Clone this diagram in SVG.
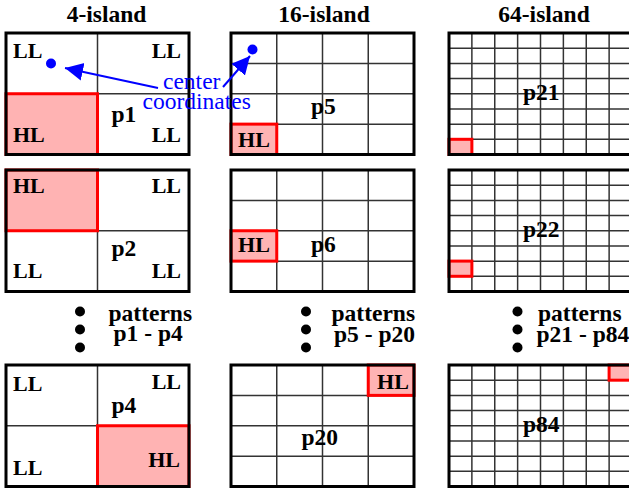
<svg xmlns="http://www.w3.org/2000/svg" xmlns:xlink="http://www.w3.org/1999/xlink" width="629" height="489" viewBox="0 0 629 489">
  <style>
    .frame { fill: none; stroke: #000; stroke-width: 3; }
    .bg { fill: #fff; }
    .grid line { stroke: #333; stroke-width: 1.5; }
    .hl { fill: #ffb3b3; stroke: #ff0000; stroke-width: 3; }
    .t { font-family: "Liberation Serif", "Times New Roman", serif; font-weight: bold; font-size: 22px; fill: #000; }
    .title { font-family: "Liberation Serif", "Times New Roman", serif; font-weight: bold; font-size: 23.5px; fill: #000; text-anchor: middle; }
    .pn { font-family: "Liberation Serif", "Times New Roman", serif; font-weight: bold; font-size: 23.5px; fill: #000; }
    .note { font-family: "Liberation Serif", "Times New Roman", serif; font-size: 23.5px; fill: #0000ff; }
    .dot { fill: #000; }
    .arrow { stroke: #0000ff; stroke-width: 2; fill: none; marker-end: url(#ah); }
  </style>
  <defs>
    <marker id="ah" markerUnits="userSpaceOnUse" markerWidth="20" markerHeight="20" refX="18" refY="9" orient="auto">
      <path d="M0,0 L18,9 L0,18 z" fill="#0000ff"/>
    </marker>
    <!-- 2x2 split -->
    <g id="g4" class="grid">
      <line x1="91.5" y1="0" x2="91.5" y2="121.5"/>
      <line x1="0" y1="60.75" x2="183" y2="60.75"/>
    </g>
    <!-- 4x4 split -->
    <g id="g16" class="grid">
      <line x1="45.75" y1="0" x2="45.75" y2="121.5"/>
      <line x1="91.5" y1="0" x2="91.5" y2="121.5"/>
      <line x1="137.25" y1="0" x2="137.25" y2="121.5"/>
      <line x1="0" y1="30.375" x2="183" y2="30.375"/>
      <line x1="0" y1="60.75" x2="183" y2="60.75"/>
      <line x1="0" y1="91.125" x2="183" y2="91.125"/>
    </g>
    <!-- 8x8 split -->
    <g id="g64" class="grid">
      <line x1="22.875" y1="0" x2="22.875" y2="121.5"/>
      <line x1="45.75" y1="0" x2="45.75" y2="121.5"/>
      <line x1="68.625" y1="0" x2="68.625" y2="121.5"/>
      <line x1="91.5" y1="0" x2="91.5" y2="121.5"/>
      <line x1="114.375" y1="0" x2="114.375" y2="121.5"/>
      <line x1="137.25" y1="0" x2="137.25" y2="121.5"/>
      <line x1="160.125" y1="0" x2="160.125" y2="121.5"/>
      <line x1="0" y1="15.1875" x2="183" y2="15.1875"/>
      <line x1="0" y1="30.375" x2="183" y2="30.375"/>
      <line x1="0" y1="45.5625" x2="183" y2="45.5625"/>
      <line x1="0" y1="60.75" x2="183" y2="60.75"/>
      <line x1="0" y1="75.9375" x2="183" y2="75.9375"/>
      <line x1="0" y1="91.125" x2="183" y2="91.125"/>
      <line x1="0" y1="106.3125" x2="183" y2="106.3125"/>
    </g>
  </defs>

  <rect x="0" y="0" width="629" height="489" fill="#fff"/>

  <!-- column headings -->
  <g id="headings">
    <text class="title" x="106.5" y="22">4-island</text>
    <text class="title" x="324" y="22">16-island</text>
    <text class="title" x="544" y="22">64-island</text>
  </g>

  <!-- 4-island patterns -->
  <g id="p1">
    <rect class="bg" x="6" y="33" width="183" height="121.5"/>
    <use href="#g4" x="6" y="33"/>
    <rect class="hl" x="6" y="93.75" width="91.5" height="60.75"/>
    <rect class="frame" x="6" y="33" width="183" height="121.5"/>
    <text class="t" x="13" y="58">LL</text>
    <text class="t" x="181" y="58" text-anchor="end">LL</text>
    <text class="t" x="13" y="141.5">HL</text>
    <text class="t" x="181" y="141.5" text-anchor="end">LL</text>
    <text class="pn" x="111.5" y="121.5">p1</text>
  </g>
  <g id="p2">
    <rect class="bg" x="6" y="170" width="183" height="121.5"/>
    <use href="#g4" x="6" y="170"/>
    <rect class="hl" x="6" y="170" width="91.5" height="60.75"/>
    <rect class="frame" x="6" y="170" width="183" height="121.5"/>
    <text class="t" x="13" y="193">HL</text>
    <text class="t" x="181" y="193" text-anchor="end">LL</text>
    <text class="t" x="13" y="278">LL</text>
    <text class="t" x="181" y="278" text-anchor="end">LL</text>
    <text class="pn" x="111.5" y="256">p2</text>
  </g>
  <g id="p4">
    <rect class="bg" x="6" y="365" width="183" height="121.5"/>
    <use href="#g4" x="6" y="365"/>
    <rect class="hl" x="97.5" y="425.75" width="91.5" height="60.75"/>
    <rect class="frame" x="6" y="365" width="183" height="121.5"/>
    <text class="t" x="13" y="391">LL</text>
    <text class="t" x="181" y="388.5" text-anchor="end">LL</text>
    <text class="t" x="13" y="475">LL</text>
    <text class="t" x="180" y="466.5" text-anchor="end">HL</text>
    <text class="pn" x="111.5" y="413">p4</text>
  </g>

  <!-- 16-island patterns -->
  <g id="p5">
    <rect class="bg" x="231" y="33" width="183" height="121.5"/>
    <use href="#g16" x="231" y="33"/>
    <rect class="hl" x="231" y="124.125" width="45.75" height="30.375"/>
    <rect class="frame" x="231" y="33" width="183" height="121.5"/>
    <text class="t" x="254" y="146.5" text-anchor="middle">HL</text>
    <text class="pn" x="311" y="114">p5</text>
  </g>
  <g id="p6">
    <rect class="bg" x="231" y="170" width="183" height="121.5"/>
    <use href="#g16" x="231" y="170"/>
    <rect class="hl" x="231" y="230.75" width="45.75" height="30.375"/>
    <rect class="frame" x="231" y="170" width="183" height="121.5"/>
    <text class="t" x="254" y="252" text-anchor="middle">HL</text>
    <text class="pn" x="311" y="252">p6</text>
  </g>
  <g id="p20">
    <rect class="bg" x="231" y="365" width="183" height="121.5"/>
    <use href="#g16" x="231" y="365"/>
    <rect class="hl" x="368.25" y="365" width="45.75" height="30.375"/>
    <rect class="frame" x="231" y="365" width="183" height="121.5"/>
    <text class="t" x="393" y="388.5" text-anchor="middle">HL</text>
    <text class="pn" x="301.5" y="445">p20</text>
  </g>

  <!-- 64-island patterns -->
  <g id="p21">
    <rect class="bg" x="449" y="33" width="183" height="121.5"/>
    <use href="#g64" x="449" y="33"/>
    <rect class="hl" x="449" y="139.3" width="22.875" height="15.19"/>
    <rect class="frame" x="449" y="33" width="183" height="121.5"/>
    <text class="pn" x="523" y="100">p21</text>
  </g>
  <g id="p22">
    <rect class="bg" x="449" y="170" width="183" height="121.5"/>
    <use href="#g64" x="449" y="170"/>
    <rect class="hl" x="449" y="261.1" width="22.875" height="15.19"/>
    <rect class="frame" x="449" y="170" width="183" height="121.5"/>
    <text class="pn" x="523" y="237">p22</text>
  </g>
  <g id="p84">
    <rect class="bg" x="449" y="365" width="183" height="121.5"/>
    <use href="#g64" x="449" y="365"/>
    <rect class="hl" x="609.1" y="365" width="22.875" height="15.19"/>
    <rect class="frame" x="449" y="365" width="183" height="121.5"/>
    <text class="pn" x="523" y="432">p84</text>
  </g>

  <!-- elided pattern ranges -->
  <g id="range-4">
    <circle class="dot" cx="80" cy="311.5" r="5"/>
    <circle class="dot" cx="80" cy="329.5" r="5"/>
    <circle class="dot" cx="80" cy="347.5" r="5"/>
    <text class="pn" x="108.5" y="320.5">patterns</text>
    <text class="pn" x="113.5" y="341">p1 - p4</text>
  </g>
  <g id="range-16">
    <circle class="dot" cx="306" cy="311.5" r="5"/>
    <circle class="dot" cx="306" cy="329.5" r="5"/>
    <circle class="dot" cx="306" cy="347.5" r="5"/>
    <text class="pn" x="331.5" y="320.5">patterns</text>
    <text class="pn" x="334" y="341.5">p5 - p20</text>
  </g>
  <g id="range-64">
    <circle class="dot" cx="517.5" cy="311.5" r="5"/>
    <circle class="dot" cx="517.5" cy="329.5" r="5"/>
    <circle class="dot" cx="517.5" cy="347.5" r="5"/>
    <text class="pn" x="538" y="320.5">patterns</text>
    <text class="pn" x="536.5" y="341.5">p21 - p84</text>
  </g>

  <!-- center coordinate callout -->
  <g id="center-label">
    <circle cx="51" cy="63.5" r="5" fill="#0000ff"/>
    <circle cx="252.5" cy="49.5" r="5" fill="#0000ff"/>
    <text class="note" x="163" y="88.5">center</text>
    <text class="note" x="142.5" y="108.5">coordinates</text>
  </g>
  <g id="connectors">
    <line class="arrow" x1="158" y1="88" x2="65" y2="68"/>
    <line class="arrow" x1="223" y1="87" x2="250" y2="56"/>
  </g>
</svg>
